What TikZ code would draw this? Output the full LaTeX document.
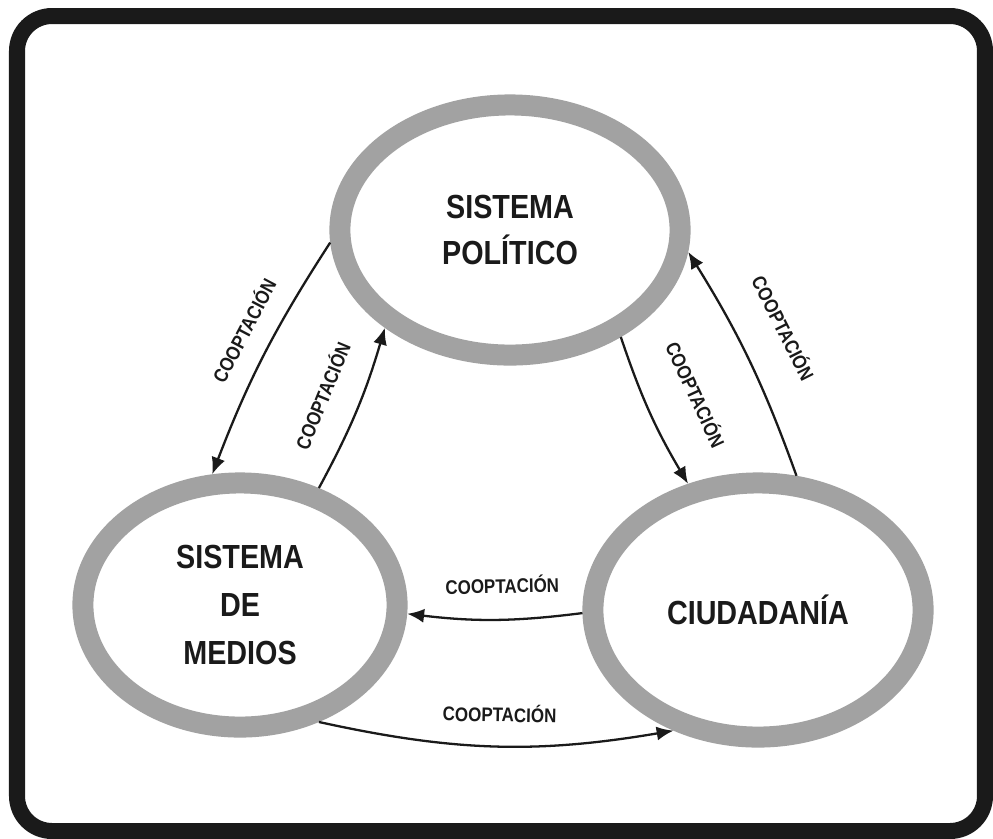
\documentclass[tikz,border=0pt]{standalone}
\usepackage{fontspec}
\setmainfont[FakeStretch=0.86]{Liberation Sans}
\usetikzlibrary{shapes.geometric,arrows.meta}
\definecolor{ringgray}{HTML}{A2A2A2}
\definecolor{inkblack}{HTML}{1A1A1A}
\tikzset{
  sysnode/.style={ellipse, draw=ringgray, line width=0.21cm, align=center, text=inkblack,
    font=\fontsize{9.5}{13}\selectfont\bfseries},
  cooparrow/.style={line width=0.65pt, draw=inkblack, -{Latex[length=4.8pt,width=4pt]}},
  cooplabel/.style={font=\fontsize{5.6}{6}\selectfont\bfseries, text=inkblack, inner sep=0pt, sloped}
}
\begin{document}
\begin{tikzpicture}[x=0.01cm,y=-0.01cm]
    \useasboundingbox (0,0) rectangle (993,838);
    \fill[white] (0,0) rectangle (993,838);
    \draw[inkblack, line width=0.16cm, rounded corners=0.35cm] (17,16) rectangle (985,831);
    \node[sysnode, minimum width=3.4cm, minimum height=2.5cm] (pol) at (510,230) {SISTEMA\\POLÍTICO};
    \node[sysnode, minimum width=3.14cm, minimum height=2.44cm, font=\fontsize{9.5}{13.6}\selectfont\bfseries] (med) at (240,605) {SISTEMA\\DE\\MEDIOS};
    \node[sysnode, minimum width=3.3cm, minimum height=2.54cm] (ciu) at (758,610) {CIUDADANÍA};
    \draw[cooparrow] (pol.184) to[bend right=6] node[cooplabel, pos=0.45, above=0.2cm] {COOPTACIÓN} (med.102);
    \draw[cooparrow] (med.56) to[bend right=6] node[cooplabel, pos=0.5, above=0.28cm] {COOPTACIÓN} (pol.218);
    \draw[cooparrow] (pol.316) to[bend right=6] node[cooplabel, pos=0.52, above=0.4cm] {COOPTACIÓN} (ciu.119);
    \draw[cooparrow] (ciu.74) to[bend right=6] node[cooplabel, pos=0.56, above=0.36cm] {COOPTACIÓN} (pol.353);
    \draw[cooparrow] (ciu.181) to[bend left=7] node[cooplabel, pos=0.45, above=0.25cm] {COOPTACIÓN} (med.357);
    \draw[cooparrow] (med.304) to[bend right=11] node[cooplabel, pos=0.51, above=0.23cm] {COOPTACIÓN} (ciu.235);
\end{tikzpicture}
\end{document}
